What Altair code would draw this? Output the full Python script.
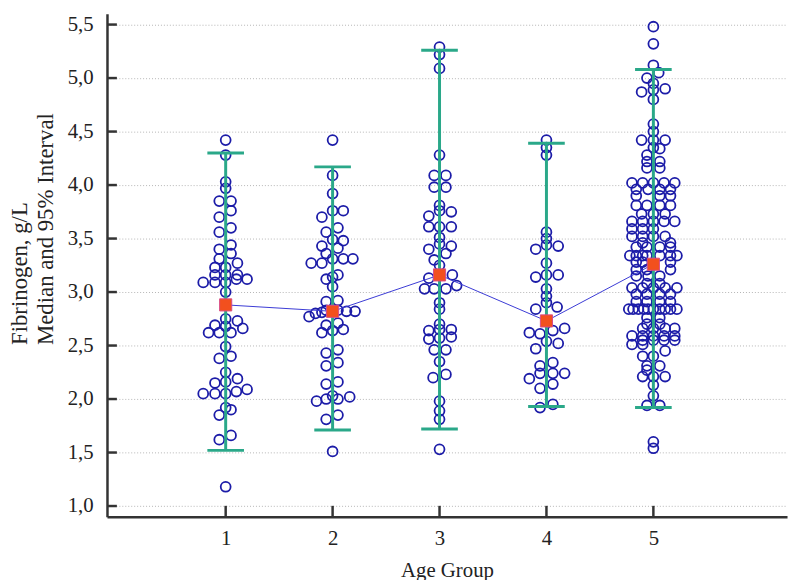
import altair as alt
import pandas as pd

# ---------------- data ----------------
GROUPS = [1, 2, 3, 4, 5]
MEDIANS = [2.88, 2.82, 3.16, 2.73, 3.26]
CI_LOW = [1.52, 1.71, 1.72, 1.93, 1.92]
CI_HIGH = [4.30, 4.17, 5.26, 4.39, 5.08]

Y_TICKS = [1.0, 1.5, 2.0, 2.5, 3.0, 3.5, 4.0, 4.5, 5.0, 5.5]

G1_VALUES = [4.42, 4.28, 4.03, 3.97, 3.85, 3.85, 3.76, 3.70, 3.60, 3.56, 3.44, 3.40, 3.36, 3.31,
             3.27, 3.23, 3.23, 3.16, 3.16, 3.16, 3.09, 3.09, 3.09, 3.12, 3.12, 3.00,
             2.75, 2.73, 2.69, 2.68, 2.66, 2.62, 2.62, 2.62, 2.49, 2.38, 2.40,
             2.25, 2.15, 2.16, 2.19, 2.05, 2.05, 2.05, 2.07, 2.09, 1.92, 1.90, 1.85,
             1.66, 1.62, 1.18]
G1_SWARM = [0, 0, 0, 0, -0.06, 0.05, 0.05, -0.06, 0.05, -0.06, 0.05, -0.06, 0.05, -0.06,
            0.11, -0.10, 0, 0, -0.10, 0.11, -0.21, -0.10, 0, 0.10, 0.20, 0,
            0, 0.11, -0.10, 0, 0.16, -0.16, -0.06, 0.05, 0, -0.06, 0.05,
            0, -0.10, 0, 0.11, -0.21, -0.10, 0, 0.10, 0.20, 0, 0.05, -0.06,
            0.05, -0.06, 0]

G2_VALUES = [4.42, 4.09, 3.92, 3.76, 3.76, 3.70, 3.60, 3.56, 3.49, 3.48, 3.43, 3.41, 3.36, 3.31,
             3.27, 3.27, 3.31, 3.31, 3.14, 3.12, 3.16, 3.05, 2.91, 2.92,
             2.77, 2.80, 2.81, 2.83, 2.83, 2.82, 2.82,
             2.69, 2.71, 2.62, 2.64, 2.65, 2.43, 2.46,
             2.31, 2.34, 2.14, 2.16, 1.98, 2.00, 2.03, 2.00, 2.02, 1.81, 1.85, 1.51]
G2_SWARM = [0, 0, 0, 0, 0.10, -0.10, 0.05, -0.06, 0, 0.10, -0.10, 0.05, -0.06, 0,
            -0.20, -0.10, 0.10, 0.19, 0, -0.06, 0.05, 0, -0.06, 0.05,
            -0.22, -0.16, -0.10, -0.06, 0.05, 0.13, 0.21,
            -0.06, 0.05, -0.10, 0, 0.10, -0.06, 0.05,
            -0.06, 0.05, -0.06, 0.05, -0.15, -0.06, 0, 0.05, 0.16, -0.06, 0.05, 0]

G3_VALUES = [5.29, 5.22, 5.09, 4.28, 4.09, 4.09, 3.98, 3.98, 3.81, 3.76, 3.71, 3.75, 3.61, 3.61,
             3.61, 3.51, 3.45, 3.43, 3.40, 3.30, 3.36, 3.25,
             3.13, 3.16, 3.03, 3.03, 3.03, 3.06, 2.90, 2.84, 2.70, 2.64, 2.65, 2.65,
             2.56, 2.57, 2.58, 2.46, 2.46, 2.35, 2.20, 2.23, 1.98, 1.89, 1.81, 1.53]
G3_SWARM = [0, 0, 0, 0, -0.05, 0.06, -0.05, 0.06, 0, 0, -0.10, 0.11, -0.10, 0,
            0.11, 0, 0, 0.11, -0.10, -0.05, 0.06, 0,
            -0.10, 0.12, -0.14, -0.05, 0.06, 0.16, 0, 0, 0, -0.10, 0.11, 0,
            -0.10, 0, 0.11, -0.05, 0.06, 0, -0.06, 0.06, 0, 0, 0, 0]

G4_VALUES = [4.42, 4.35, 4.28, 3.56, 3.50, 3.44, 3.40, 3.43, 3.27, 3.14, 3.16, 3.16, 3.03,
             2.96, 2.90, 2.84, 2.86,
             2.62, 2.61, 2.64, 2.66, 2.54, 2.47, 2.52,
             2.31, 2.34, 2.19, 2.24, 2.24, 2.24, 2.10, 2.14, 1.92, 1.95]
G4_SWARM = [0, 0, 0, 0, 0, 0, -0.10, 0.11, 0, -0.10, 0, 0.11, 0,
            0, 0, -0.10, 0.10,
            -0.16, -0.06, 0.06, 0.17, 0, -0.10, 0.11,
            -0.06, 0.06, -0.16, -0.06, 0.06, 0.17, -0.06, 0.06, -0.06, 0.06]

# group 5: (value, swarm offsets of the circles at that value)
G5_ROWS = [
    (5.48, [0]), (5.32, [0]), (5.12, [0]), (5.05, [0.05]), (5.00, [-0.06]), (4.95, [0]),
    (4.87, [-0.11]), (4.89, [0]), (4.90, [0.11]), (4.80, [0]), (4.57, [0]), (4.50, [0]),
    (4.42, [-0.11, 0, 0.11]), (4.35, [0]), (4.34, [0.06]), (4.28, [-0.06]),
    (4.22, [-0.06, 0.06]), (4.16, [-0.06, 0.06]),
    (4.02, [-0.20, -0.10, 0, 0.10, 0.20]), (3.96, [-0.16, -0.05, 0.06, 0.16]),
    (3.90, [-0.16, 0.06, 0.16]), (3.81, [-0.16, -0.06, 0.06, 0.16]),
    (3.73, [-0.11, 0, 0.11]), (3.66, [-0.20, -0.10, 0, 0.10, 0.20]),
    (3.59, [-0.20, -0.10, 0]), (3.52, [-0.20, -0.10, 0, 0.11]),
    (3.46, [-0.10, 0.16]), (3.42, [-0.16, -0.06, 0.06, 0.16]),
    (3.34, [-0.22, -0.16, -0.10, -0.06, 0.06, 0.16, 0.22]),
    (3.28, [-0.16, -0.10, 0.16]), (3.21, [-0.16, -0.06, 0.16]), (3.15, [-0.16, -0.05, 0.06]),
    (3.08, [-0.06, 0.06]), (3.04, [-0.20, -0.10, 0, 0.11, 0.22]),
    (2.98, [-0.16, -0.06, 0.06, 0.16]), (2.91, [-0.16, -0.06, 0.06, 0.16]),
    (2.84, [-0.23, -0.19, -0.14, -0.09, -0.05, 0, 0.06, 0.11, 0.16, 0.22]),
    (2.76, [-0.06, 0.06]), (2.70, [-0.06, 0.06]), (2.66, [-0.10, 0, 0.11, 0.20]),
    (2.59, [-0.20, -0.10, 0, 0.10, 0.20]), (2.55, [-0.10, 0, 0.10, 0.20]),
    (2.51, [-0.20, -0.10]), (2.45, [0.11]), (2.40, [-0.10, 0]), (2.31, [-0.06, 0.06]),
    (2.27, [-0.06]), (2.21, [-0.10, 0, 0.11]), (2.13, [0]), (2.03, [0]),
    (1.94, [-0.06, 0.06]), (1.60, [0]), (1.54, [0]),
]

# ---------------- tables ----------------
rows = []
for g, vals, offs in [(1, G1_VALUES, G1_SWARM), (2, G2_VALUES, G2_SWARM),
                      (3, G3_VALUES, G3_SWARM), (4, G4_VALUES, G4_SWARM)]:
    for v, o in zip(vals, offs):
        rows.append({"group": g, "value": v, "xpos": g + o})
for v, offs in G5_ROWS:
    for o in offs:
        rows.append({"group": 5, "value": v, "xpos": 5 + o})
pts = pd.DataFrame(rows)

summ = pd.DataFrame({"group": GROUPS, "median": MEDIANS, "low": CI_LOW, "high": CI_HIGH})
yt = pd.DataFrame({"t": Y_TICKS})
xt = pd.DataFrame({"t": GROUPS})

W, H = 687, 508
FONT = "Liberation Serif"
AX = "#333333"
xs = alt.Scale(domain=[-0.11, 6.25], nice=False, zero=False)
ys = alt.Scale(domain=[0.9, 5.6], nice=False, zero=False)

x_axis = alt.Axis(values=GROUPS, ticks=False, grid=False, domain=True, domainColor=AX,
                  domainWidth=2.5, labelFont=FONT, labelFontSize=21, labelColor="#222",
                  labelPadding=11, format="d", title="Age Group", titleFont=FONT,
                  titleFontSize=21, titleFontWeight="normal", titleColor="#222", titlePadding=11)
y_axis = alt.Axis(values=Y_TICKS, ticks=False, grid=True, gridColor="#b5b5b5", gridDash=[1, 2],
                  gridWidth=1, domain=True, domainColor=AX, domainWidth=2.5,
                  labelFont=FONT, labelFontSize=21, labelColor="#222", labelPadding=14,
                  labelExpr="replace(format(datum.value, '.1f'), '.', ',')",
                  title=["Fibrinogen, g/L", "Median and 95% Interval"], titleFont=FONT,
                  titleFontSize=23, titleFontWeight="normal", titleColor="#222",
                  titleAngle=270, titleAlign="left", titleBaseline="top",
                  titleX=-99, titleY=334, titleLineHeight=26)


def X(field):
    return alt.X(field, scale=xs, axis=x_axis)


def Y(field):
    return alt.Y(field, scale=ys, axis=y_axis)


points = alt.Chart(pts).mark_point(shape="circle", filled=False, size=100, color="#1c1ca8",
                                   strokeWidth=1.8, opacity=1).encode(
    x=X("xpos:Q"), y=Y("value:Q"))

bars = alt.Chart(summ).mark_rule(color="#2aa889", strokeWidth=3).encode(
    x=X("group:Q"), y=Y("low:Q"), y2="high:Q")
cap_lo = alt.Chart(summ).mark_tick(color="#2aa889", orient="horizontal", size=37,
                                   thickness=3, opacity=1).encode(x=X("group:Q"), y=Y("low:Q"))
cap_hi = alt.Chart(summ).mark_tick(color="#2aa889", orient="horizontal", size=37,
                                   thickness=3, opacity=1).encode(x=X("group:Q"), y=Y("high:Q"))
line = alt.Chart(summ).mark_line(color="#3a3ad4", strokeWidth=1).encode(
    x=X("group:Q"), y=Y("median:Q"))
squares = alt.Chart(summ).mark_square(size=150, fill="#f2501e", stroke="#d94a86",
                                      strokeWidth=1, opacity=1, fillOpacity=1).encode(
    x=X("group:Q"), y=Y("median:Q"))

ytick = alt.Chart(yt).mark_rule(color=AX, strokeWidth=2.5).encode(
    y=Y("t:Q"), x=alt.value(0), x2=alt.value(10))
xtick = alt.Chart(xt).mark_rule(color=AX, strokeWidth=2.5).encode(
    x=X("t:Q"), y=alt.value(H), y2=alt.value(H - 11))

chart = alt.layer(points, bars, cap_lo, cap_hi, line, squares, ytick, xtick).properties(
    width=W, height=H,
    autosize=alt.AutoSizeParams(type="none"),
    padding={"left": 100, "top": 3, "right": 3, "bottom": 61},
    background="white",
).configure_view(stroke=None)

chart.save("out.html", embed_options={"renderer": "svg", "actions": False})
